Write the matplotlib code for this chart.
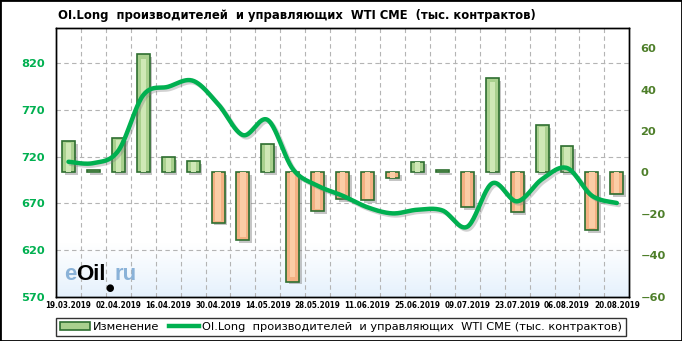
import numpy as np
import matplotlib
matplotlib.use("Agg")
import matplotlib.pyplot as plt
import matplotlib.patheffects as pe
from matplotlib.patches import Patch, Rectangle
from matplotlib.lines import Line2D

plt.rcParams['font.family'] = 'DejaVu Sans'

# --- data ---
dates = ['19.03.2019', '26.03.2019', '02.04.2019', '09.04.2019', '16.04.2019', '23.04.2019',
         '30.04.2019', '07.05.2019', '14.05.2019', '21.05.2019', '28.05.2019', '04.06.2019',
         '11.06.2019', '18.06.2019', '25.06.2019', '02.07.2019', '09.07.2019', '16.07.2019',
         '23.07.2019', '30.07.2019', '06.08.2019', '13.08.2019', '20.08.2019']
change = [15.0, 1.0, 16.4, 57.3, 7.4, 5.3, -24.2, -32.6, 13.9, -52.7, -18.5, -12.9,
          -13.2, -2.9, 5.2, 1.0, -16.9, 45.7, -19.3, 22.7, 12.9, -27.7, -10.3]
oi_long = [714.6, 713.2, 726.4, 786.0, 795.0, 801.4, 776.5, 743.2, 759.3, 706.8, 688.9, 678.2,
           665.8, 659.3, 663.2, 662.5, 645.0, 691.5, 672.2, 696.0, 707.9, 678.2, 670.4]
left_ticks = [570, 620, 670, 720, 770, 820]
right_ticks = [-60, -40, -20, 0, 20, 40, 60]

title = 'OI.Long  производителей  и управляющих  WTI CME  (тыс. контрактов)'
line_label = 'OI.Long  производителей  и управляющих  WTI CME (тыс. контрактов)'


def catmull_rom(xs, ys, n=24):
    # сглаживание линии как в Excel
    p = np.column_stack([xs, ys]).astype(float)
    p = np.vstack([p[0], p, p[-1]])
    out = []
    t = np.linspace(0, 1, n, endpoint=False)[:, None]
    for i in range(1, len(p) - 2):
        p0, p1, p2, p3 = p[i - 1], p[i], p[i + 1], p[i + 2]
        seg = 0.5 * ((2 * p1) + (-p0 + p2) * t + (2 * p0 - 5 * p1 + 4 * p2 - p3) * t ** 2
                     + (-p0 + 3 * p1 - 3 * p2 + p3) * t ** 3)
        out.append(seg)
    out.append(p[-2][None, :])
    out = np.vstack(out)
    return out[:, 0], out[:, 1]


W, H = 682, 341
fig = plt.figure(figsize=(W / 100, H / 100), dpi=100)
fig.patch.set_facecolor('white')

ax = fig.add_axes([56 / W, 1 - 296.7 / H, (629.3 - 56) / W, (296.7 - 27.5) / H])
ax2 = ax.twinx()

x = np.arange(len(dates))
left_lim = (570, 858.5)
right_lim = (-60, 70)

# фон с градиентом
grad = np.linspace(0, 1, 256)[:, None]
grad = np.clip(grad / 0.2, 0, 1) ** 0.8
img = np.ones((256, 1, 3))
blue = np.array([0.89, 0.94, 0.99])
for k in range(3):
    img[:, 0, k] = blue[k] + (1 - blue[k]) * grad[:, 0]
ax.imshow(img, extent=[0, 1, 0, 1], transform=ax.transAxes, origin='lower',
          aspect='auto', zorder=0)

# сетка
for v in left_ticks[1:]:
    frac = (v - left_lim[0]) / (left_lim[1] - left_lim[0])
    ax.plot([0, 1], [frac, frac], transform=ax.transAxes, color='#b4b4b4',
            lw=0.8, ls=(0, (4, 3)), zorder=1)
ax.set_xticks(np.arange(0.5, len(dates) - 1, 1), minor=True)
ax.grid(which='minor', axis='x', color='#b4b4b4', lw=0.8, ls=(0, (4, 3)), zorder=1)

# столбцы
bw = 0.52
for xi, v in zip(x, change):
    fc = '#a9d08e' if v >= 0 else '#f4b183'
    hl = '#cfe8b6' if v >= 0 else '#fbcda6'
    b = ax.bar(xi, v, width=bw, color=fc, edgecolor='#2e6e30', lw=1.2, zorder=3)
    b[0].set_path_effects([pe.SimplePatchShadow(offset=(2, -2), shadow_rgbFace='gray', alpha=0.45),
                           pe.Normal()])
    if abs(v) > 2:
        ax.bar(xi, v * 0.96, width=bw * 0.4, color=hl, edgecolor='none', zorder=4)

ax.set_xlim(-0.5, len(dates) - 0.5)
ax.set_ylim(*right_lim)
ax.set_yticks(right_ticks)
ax.yaxis.tick_right()
ax.tick_params(axis='y', length=0, pad=8, labelsize=8.2, labelcolor='#4e7f2a')
for t in ax.get_yticklabels():
    t.set_fontweight('bold')

ax.set_xticks(x[::2])
ax.set_xticklabels(dates[::2], fontsize=5.8, fontweight='bold', fontstretch='condensed')
ax.tick_params(axis='x', which='both', length=0, pad=3)

# линия
sx, sy = catmull_rom(x, oi_long)
ax2.plot(sx, sy, color='#00b050', lw=3.2, solid_capstyle='round', zorder=5,
         path_effects=[pe.SimpleLineShadow(offset=(1.5, -1.5), shadow_color='gray', alpha=0.35),
                       pe.Normal()])
ax2.set_ylim(*left_lim)
ax2.set_yticks(left_ticks)
ax2.yaxis.tick_left()
ax2.tick_params(axis='y', length=0, pad=8, labelsize=8.2, labelcolor='#00b050')
for t in ax2.get_yticklabels():
    t.set_fontweight('bold')

for a in (ax, ax2):
    for s in a.spines.values():
        s.set_color('black')
        s.set_linewidth(1.0)

# водяной знак
wm_y = 1 - 280 / H
fig.text(64 / W, wm_y, 'e', fontsize=16, color='#8ab2d8', fontweight='bold',
         family='Liberation Sans', ha='left', va='baseline')
fig.text(76 / W, wm_y, 'Oil', fontsize=16, color='black', fontweight='bold',
         family='Liberation Sans', ha='left', va='baseline')
fig.text(114 / W, wm_y, 'ru', fontsize=16, color='#8ab2d8', fontweight='bold',
         family='Liberation Sans', ha='left', va='baseline')
fig.text(110 / W, 1 - 288 / H, '●', fontsize=7, color='black', ha='center', va='center')

# заголовок
fig.text(58 / W, 1 - 15 / H, title, fontsize=9.3, fontweight='bold',
         family='DejaVu Sans', fontstretch='condensed', ha='left', va='center')

# легенда
handles = [Patch(facecolor='#a9d08e', edgecolor='#2e6e30', lw=1.2, label='Изменение'),
           Line2D([0], [0], color='#00b050', lw=3.2, label=line_label)]
leg = fig.legend(handles=handles, loc='lower left', ncol=2,
                 bbox_to_anchor=(56 / W, 1 - 336 / H, (626 - 56) / W, 23 / H),
                 mode='expand', fontsize=8.2, frameon=True, fancybox=False,
                 handlelength=2.6, handletextpad=0.3, borderaxespad=0, borderpad=0.35,
                 columnspacing=1.0)
leg.get_frame().set_edgecolor('black')
leg.get_frame().set_linewidth(1.0)

# рамка рисунка
fig.add_artist(Rectangle((0, 0), 1, 1, transform=fig.transFigure, fill=False,
                         edgecolor='black', lw=2.0))

fig.savefig('out.png', dpi=100)
